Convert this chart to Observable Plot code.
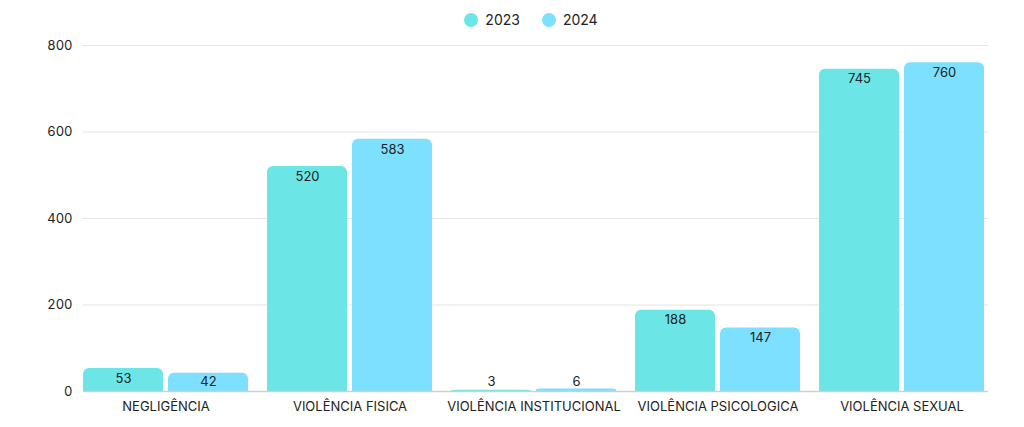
<!DOCTYPE html>
<html>
<head>
<meta charset="utf-8">
<script src="https://cdn.jsdelivr.net/npm/d3@7"></script>
<script src="https://cdn.jsdelivr.net/npm/@observablehq/plot@0.6"></script>
<style>
  body { margin: 0; background: #fff; font-family: Inter, "Open Sans", sans-serif; }
  #legend { height: 32px; display: flex; justify-content: center; align-items: flex-start; padding-top: 11px; gap: 22px; font-size: 14px; line-height: 18px; color: #222; padding-left: 38px; box-sizing: border-box; }
  .item { display: flex; align-items: center; gap: 7px; }
  .sw { width: 14px; height: 14px; border-radius: 50%; display: inline-block; }
</style>
</head>
<body>
<div id="legend"></div>
<div id="chart"></div>
<script>
const categories = ["NEGLIGÊNCIA", "VIOLÊNCIA FISICA", "VIOLÊNCIA INSTITUCIONAL", "VIOLÊNCIA PSICOLOGICA", "VIOLÊNCIA SEXUAL"];
const years = ["2023", "2024"];
const values2023 = [53, 520, 3, 188, 745];
const values2024 = [42, 583, 6, 147, 760];
const colors = ["#6ce5e6", "#7de0ff"];
const yTicks = [0, 200, 400, 600, 800];

const data = [];
categories.forEach((c, i) => {
  data.push({category: c, year: years[0], value: values2023[i]});
  data.push({category: c, year: years[1], value: values2024[i]});
});

const legend = document.getElementById("legend");
years.forEach((y, i) => {
  const it = document.createElement("span");
  it.className = "item";
  it.innerHTML = `<span class="sw" style="background:${colors[i]}"></span><span>${y}</span>`;
  legend.appendChild(it);
});

const W = 1024, ML = 81, MR = 38;
const chart = Plot.plot({
  width: W,
  height: 395,
  marginTop: 13,
  marginBottom: 36,
  marginLeft: ML,
  marginRight: MR,
  style: {fontFamily: "Inter, 'Open Sans', sans-serif", fontSize: "13px", color: "#222", overflow: "visible"},
  fx: {domain: categories, paddingInner: 0.105, paddingOuter: 0, label: null},
  x: {domain: years, paddingInner: 0.06, paddingOuter: 0, axis: null},
  y: {domain: [0, 800], ticks: yTicks, label: null},
  color: {domain: years, range: colors},
  marks: [
    Plot.axisY({ticks: yTicks.filter(t => t > 0), tickSize: -(W - ML - MR), text: null, label: null, stroke: "#e4e4e4", strokeOpacity: 1, strokeWidth: 1}),
    Plot.axisY({ticks: yTicks, tickSize: 0, tickPadding: 11, label: null, fontSize: 13}),
    Plot.axisFx({tickSize: 0, tickPadding: 10, label: null, fontSize: 13, anchor: "bottom"}),
    Plot.barY(data, {fx: "category", x: "year", y: "value", fill: "year", rx: 6}),
    Plot.barY(data, {fx: "category", x: "year", y1: 0, y2: d => d.value / 2, fill: "year"}),
    Plot.axisY({ticks: [0], tickSize: -(W - ML - MR), text: null, label: null, stroke: "#cfcfcf", strokeOpacity: 1, strokeWidth: 1.5}),
    Plot.text(data, {fx: "category", x: "year", y: d => Math.max(d.value, 45), text: d => String(d.value), dy: 10, fill: "#222", fontSize: 13})
  ]
});
document.getElementById("chart").appendChild(chart);
</script>
</body>
</html>
